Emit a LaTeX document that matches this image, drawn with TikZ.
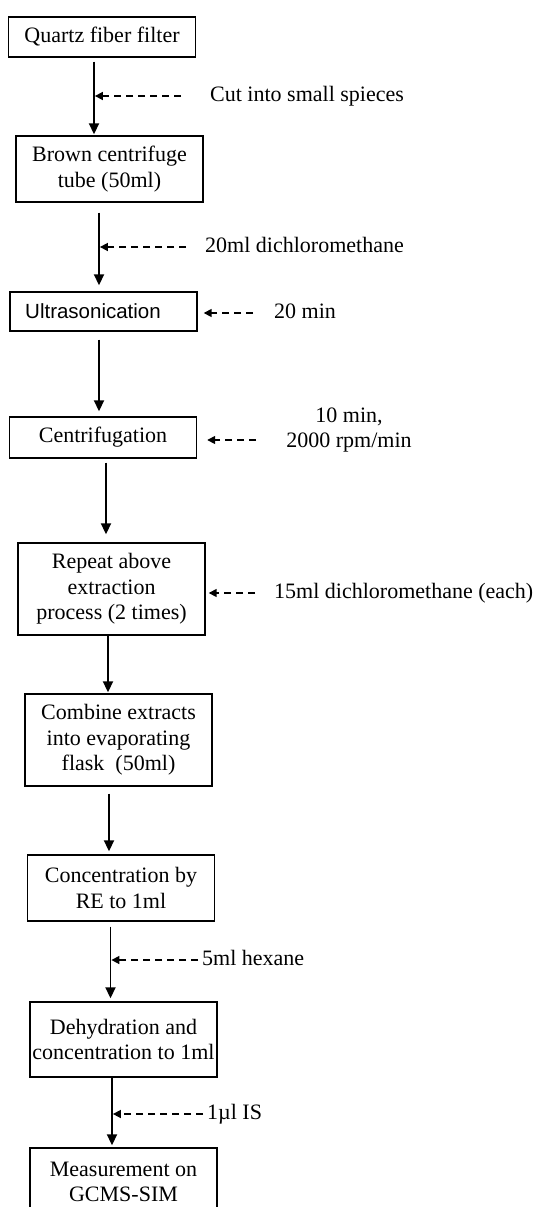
\documentclass[tikz,border=0pt]{standalone}
\usepackage{fontspec}
\setmainfont{Liberation Serif}
\newfontfamily\arialfont{Liberation Sans}
\usetikzlibrary{arrows.meta}
\begin{document}
\begin{tikzpicture}[x=1pt,y=-1pt,
  box/.style={draw, line width=1.4pt, align=center, inner sep=0pt, minimum width=187pt, font=\fontsize{22}{25.5}\selectfont},
  lbl/.style={inner sep=0pt, font=\fontsize{22}{25.5}\selectfont},
  arr/.style={line width=1.8pt, -{Triangle[length=11pt,width=10pt]}},
  darr/.style={line width=1.6pt, dash pattern=on 7pt off 5pt, -{Triangle[length=8pt,width=8pt]}}]
\useasboundingbox (0,0) rectangle (536,1207);
\clip (0,0) rectangle (536,1207);
\fill[white] (0,0) rectangle (536,1207);
% boxes
\node[box, minimum height=40pt] (b1) at (102,37) {Quartz fiber filter};
\node[box, minimum height=66pt] (b2) at (109.5,169) {Brown centrifuge\\tube (50ml)};
\node[box, minimum height=39pt, font=\arialfont\fontsize{20.5}{24}\selectfont] (b3) at (103.5,311.5) {\hspace*{-21pt}Ultrasonication};
\node[box, minimum height=41pt] (b4) at (103,437.5) {Centrifugation};
\node[box, minimum height=92pt] (b5) at (111.5,589) {Repeat above\\extraction\\process (2 times)};
\node[box, minimum height=92pt] (b6) at (118.5,740) {Combine extracts\\into evaporating\\flask\ \ (50ml)};
\node[box, minimum height=66pt] (b7) at (121,888) {Concentration by\\RE to 1ml};
\node[box, minimum height=75pt] (b8) at (123.5,1039.5) {Dehydration and\\concentration to 1ml};
\node[box, minimum height=68pt] (b9) at (123.5,1182) {Measurement on\\GCMS-SIM};
% points on the main arrows
\coordinate (p1) at (94,96);
\coordinate (p2) at (99,247);
\coordinate (p3) at (99,376);
\coordinate (p4) at (106,500);
\coordinate (p5) at (108,665);
\coordinate (p6) at (109,822);
\coordinate (p7) at (110.5,960);
\coordinate (p8) at (112,1114);
% main arrows
\draw[arr, shorten <=4pt, shorten >=1pt] (b1.south -| p1) -- (b2.north -| p1);
\draw[arr, shorten <=10pt, shorten >=6pt] (b2.south -| p2) -- (b3.north -| p2);
\draw[arr, shorten <=8pt, shorten >=5pt] (b3.south -| p3) -- (b4.north -| p3);
\draw[arr, shorten <=4pt, shorten >=8pt] (b4.south -| p4) -- (b5.north -| p4);
\draw[arr, shorten >=1pt] (b5.south -| p5) -- (b6.north -| p5);
\draw[arr, shorten <=7pt, shorten >=3pt] (b6.south -| p6) -- (b7.north -| p6);
\draw[arr, shorten <=5pt, shorten >=3pt] (b7.south -| p7) -- (b8.north -| p7);
\draw[arr, shorten >=2pt] (b8.south -| p8) -- (b9.north -| p8);
% side inputs
\node[lbl, anchor=base west] (l1) at (210,101) {Cut into small spieces};
\coordinate (s1) at (181,96);
\draw[darr, shorten >=0.9pt] (s1) -- (p1);
\node[lbl, anchor=base west] (l2) at (205,252) {20ml dichloromethane};
\coordinate (s2) at (186,247);
\draw[darr, shorten >=0.9pt] (s2) -- (p2);
\node[lbl, anchor=base west] (l3) at (274,318) {20 min};
\coordinate (s3) at (253,313);
\draw[darr, shorten >=6pt] (s3) -- (s3 -| b3.east);
\node[lbl, anchor=base] (l4a) at (349,422) {10 min,};
\node[lbl, anchor=base] (l4b) at (349,447) {2000 rpm/min};
\coordinate (s4) at (256,440);
\draw[darr, shorten >=10pt] (s4) -- (s4 -| b4.east);
\node[lbl, anchor=base west] (l5) at (274,598) {15ml dichloromethane (each)};
\coordinate (s5) at (255,593);
\draw[darr, shorten >=3pt] (s5) -- (s5 -| b5.east);
\node[lbl, anchor=base west] (l7) at (202,965) {5ml hexane};
\coordinate (s7) at (198,960);
\draw[darr, shorten >=0.9pt] (s7) -- (p7);
\node[lbl, anchor=base west] (l8) at (207,1119) {1µl IS};
\coordinate (s8) at (203,1114);
\draw[darr, shorten >=0.9pt] (s8) -- (p8);
\end{tikzpicture}
\end{document}
